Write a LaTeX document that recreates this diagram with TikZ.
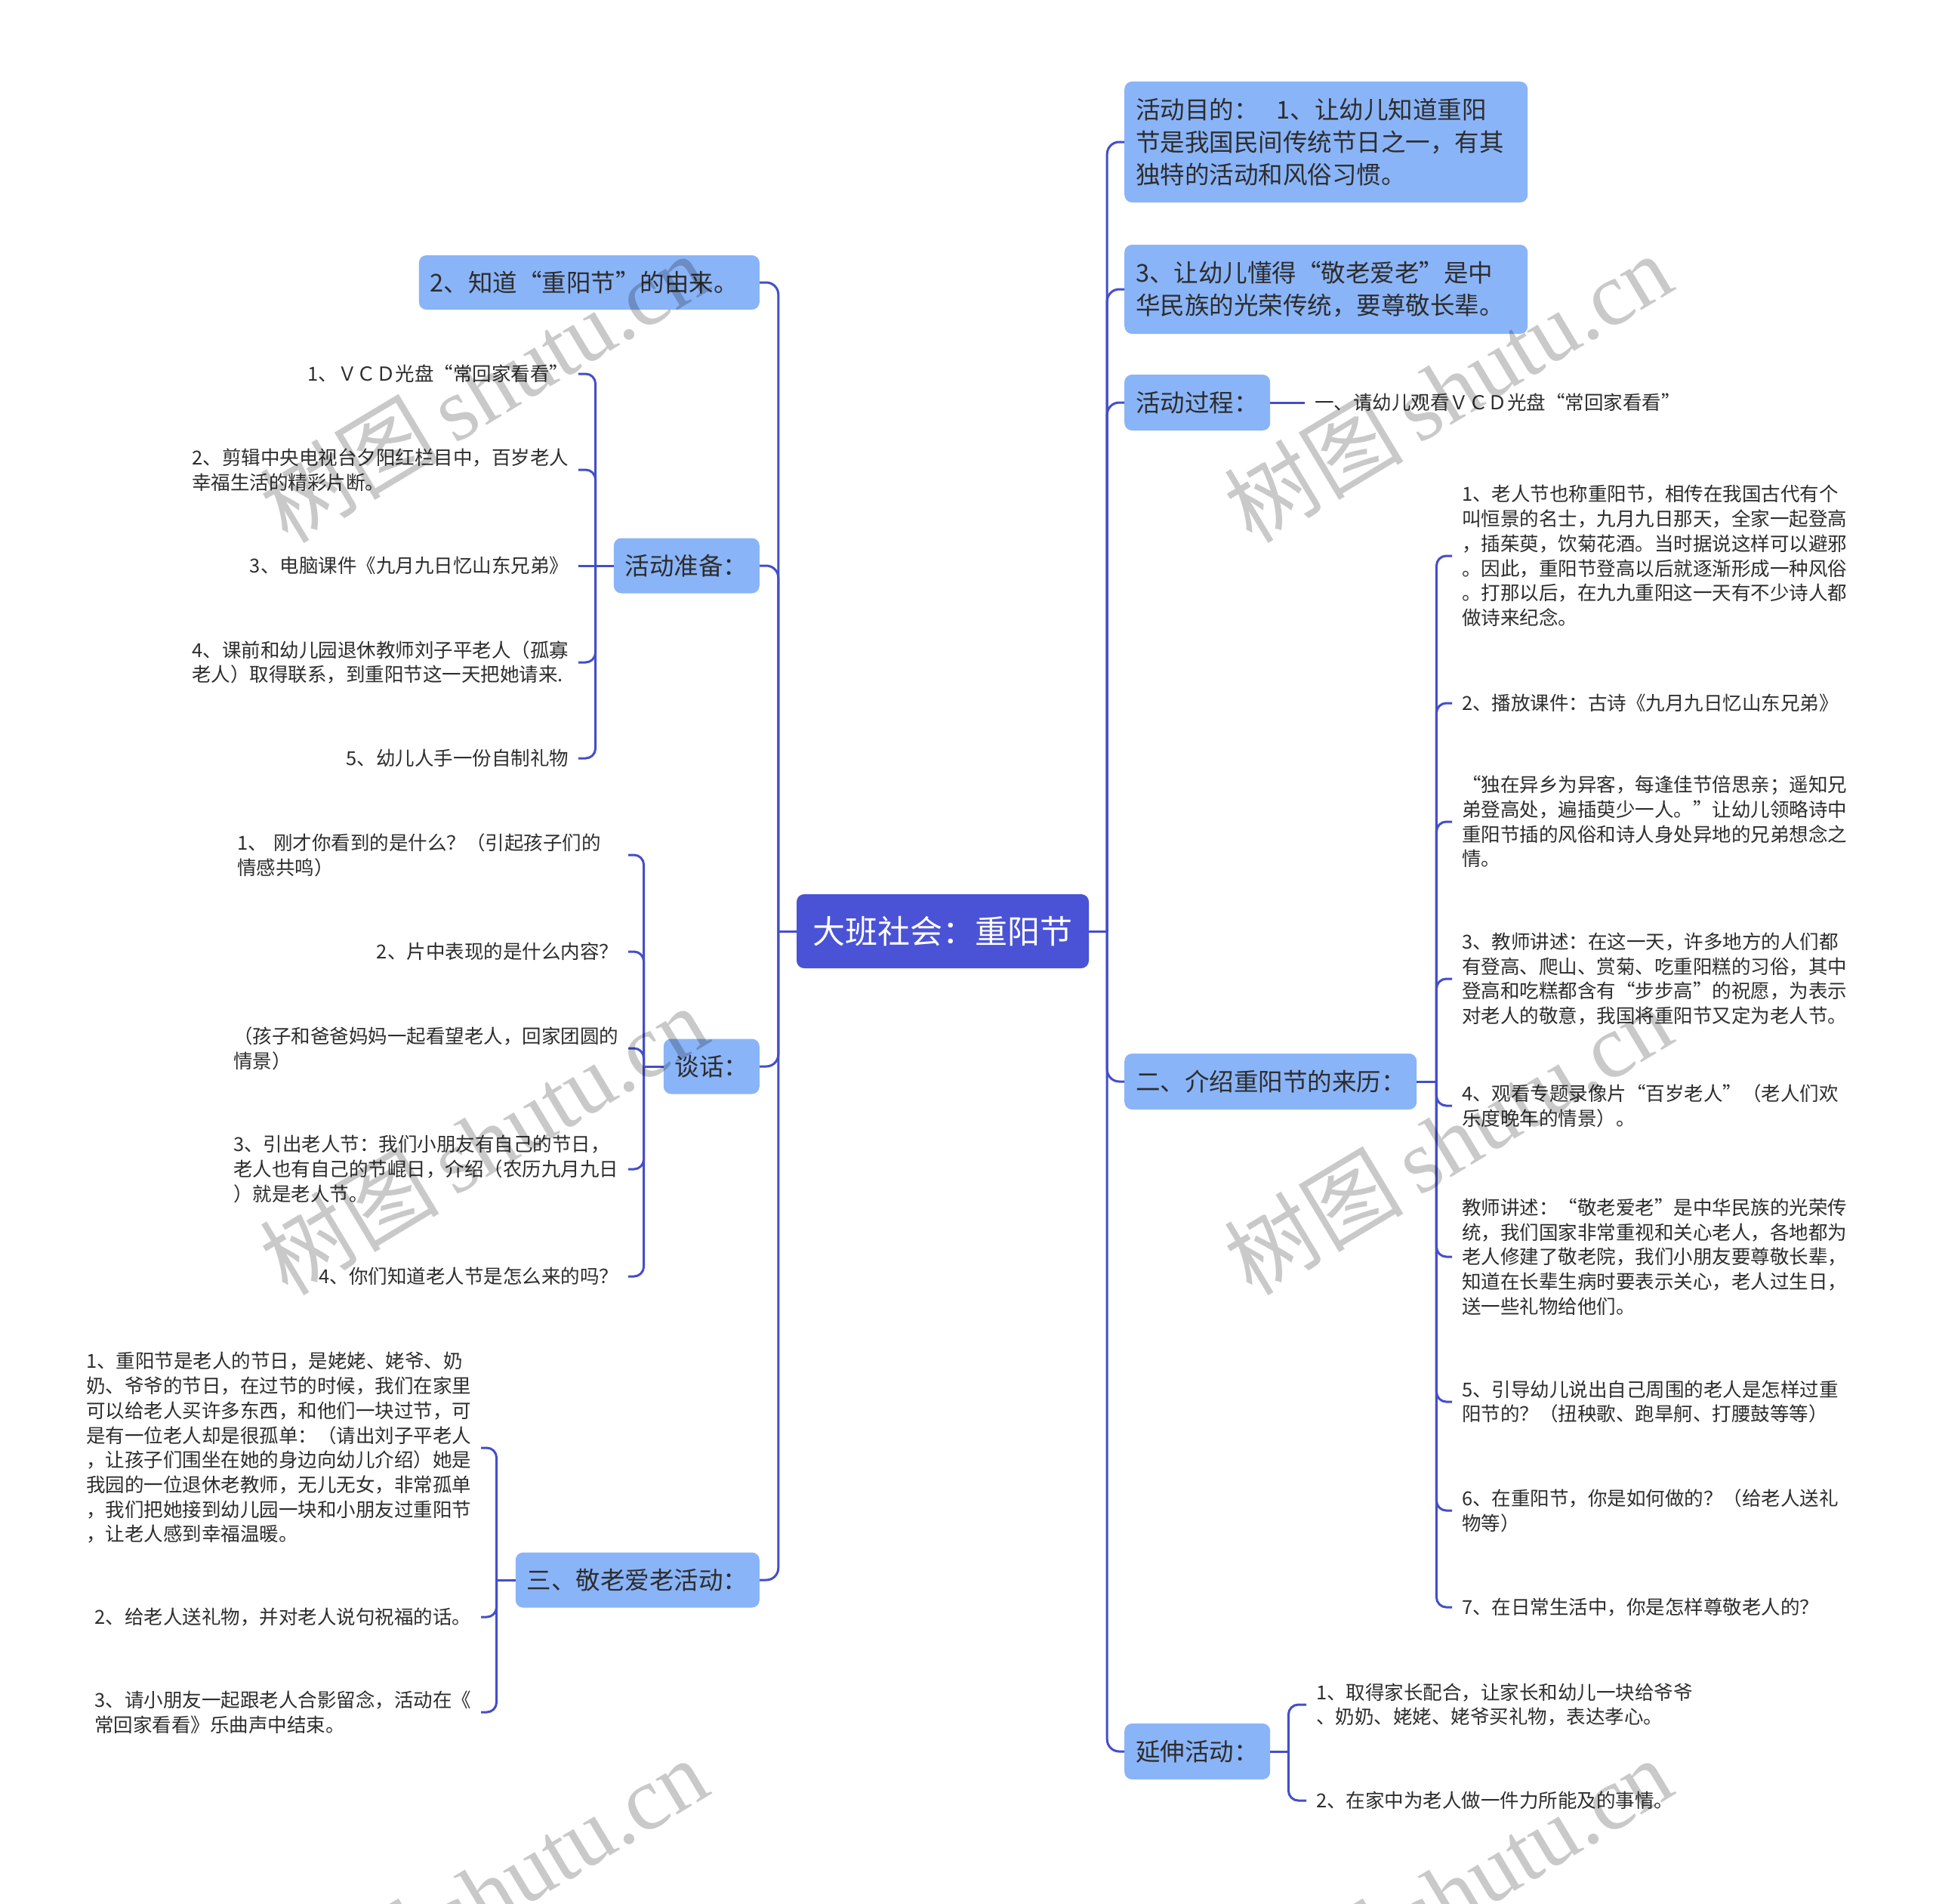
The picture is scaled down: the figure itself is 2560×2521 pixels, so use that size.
\documentclass[tikz,border=0pt]{standalone}
\usepackage{fontspec}
\setmainfont{Noto Sans CJK SC}
\newfontfamily\wmserif{Liberation Serif}
\definecolor{linec}{RGB}{68,78,200}
\definecolor{rootc}{RGB}{74,82,214}
\definecolor{boxc}{RGB}{138,180,248}
\definecolor{txtc}{RGB}{45,45,45}
\tikzset{
  root/.style={fill=rootc, rounded corners=10pt, text=white, font=\fontsize{43}{50}\selectfont, minimum width=387pt, minimum height=98pt, inner sep=0pt},
  box/.style={fill=boxc, rounded corners=10pt, text=txtc, font=\fontsize{32.5}{43}\selectfont, inner xsep=15pt, inner ysep=0pt, align=left},
  leaf/.style={text=txtc, font=\fontsize{25.5}{32.7}\selectfont, inner sep=0pt, outer xsep=13pt, align=left},
  leafL/.style={leaf, anchor=east},
  leafR/.style={leaf, anchor=west},
  conn/.style={draw=linec, line width=3pt, rounded corners=16pt},
  stubc/.style={draw=linec, line width=3pt, rounded corners=13pt},
  wm/.style={text=black, opacity=0.21, rotate=31, inner sep=0pt, font=\fontsize{119}{119}\selectfont}
}
\begin{document}
\begin{tikzpicture}[x=1pt,y=-1pt]
\useasboundingbox (0,0) rectangle (2560,2521);
\fill[white] (0,0) rectangle (2560,2521);

% root
\node[root] (root) at (1248.5,1233) {大班社会：重阳节};
\coordinate (lj) at ([xshift=-24pt]root.west);
\coordinate (rj) at ([xshift=24pt]root.east);
\draw[conn] (root.west) -- (lj);
\draw[conn] (root.east) -- (rj);

% left boxes
\node[box, text width=421pt, minimum height=72pt, anchor=east] (k2) at (1006,374) {2、知道“重阳节”的由来。};
\node[box, text width=163pt, minimum height=73pt, anchor=east] (prep) at (1006,749) {活动准备：};
\node[box, text width=97pt, minimum height=73pt, anchor=east] (talk) at (1006,1412) {谈话：};
\node[box, text width=293pt, minimum height=73pt, anchor=east] (act3) at (1006,2092) {三、敬老爱老活动：};

% right boxes
\node[box, text width=504pt, minimum height=160pt, anchor=west] (goal) at (1489,188) {活动目的：\hspace{24pt}1、让幼儿知道重阳\\节是我国民间传统节日之一，有其\\独特的活动和风俗习惯。};
\node[box, text width=504pt, minimum height=118pt, anchor=west] (goal3) at (1489,383) {3、让幼儿懂得“敬老爱老”是中\\华民族的光荣传统，要尊敬长辈。};
\node[box, text width=163pt, minimum height=74pt, anchor=west] (proc) at (1489,533) {活动过程：};
\node[box, text width=357pt, minimum height=74pt, anchor=west] (hist) at (1489,1432) {二、介绍重阳节的来历：};
\node[box, text width=163pt, minimum height=74pt, anchor=west] (ext) at (1489,2319) {延伸活动：};

% trunk connectors
\foreach \n in {k2,prep,talk,act3} \draw[conn] (lj) |- (\n.east);
\foreach \n in {goal,goal3,proc,hist,ext} \draw[conn] (rj) |- (\n.west);

% 活动准备 leaves
\coordinate (pj) at ([xshift=-24pt]prep.west);
\draw[conn] (prep.west) -- (pj);
\node[leafL] (p1) at (766,495) {1、ＶＣＤ光盘“常回家看看”};
\node[leafL] (p2) at (766,622) {2、剪辑中央电视台夕阳红栏目中，百岁老人\\幸福生活的精彩片断。};
\node[leafL] (p3) at (766,749) {3、电脑课件《九月九日忆山东兄弟》};
\node[leafL] (p4) at (766,877) {4、课前和幼儿园退休教师刘子平老人（孤寡\\老人）取得联系，到重阳节这一天把她请来.};
\node[leafL] (p5) at (766,1004) {5、幼儿人手一份自制礼物};
\foreach \n in {p1,p2,p4,p5} \draw[stubc] (pj) |- (\n.east);
\draw[stubc] (pj) -- (p3.east);

% 谈话 leaves
\coordinate (tj) at ([xshift=-26pt]talk.west);
\draw[conn] (talk.west) -- (tj);
\node[leafL, text width=505pt] (t1) at (832,1132) {1、 刚才你看到的是什么？（引起孩子们的\\情感共鸣）};
\node[leafL] (t2) at (832,1260) {2、片中表现的是什么内容？};
\node[leafL] (t3) at (832,1388) {（孩子和爸爸妈妈一起看望老人，回家团圆的\\情景）};
\node[leafL] (t4) at (832,1548) {3、引出老人节：我们小朋友有自己的节日，\\老人也有自己的节崐日，介绍（农历九月九日\\）就是老人节。};
\node[leafL] (t5) at (832,1690) {4、你们知道老人节是怎么来的吗？};
\foreach \n in {t1,t2,t3,t4,t5} \draw[stubc] (tj) |- (\n.east);

% 三 leaves
\coordinate (aj) at ([xshift=-25pt]act3.west);
\draw[conn] (act3.west) -- (aj);
\node[leafL] (a1) at (637,1917) {1、重阳节是老人的节日，是姥姥、姥爷、奶\\奶、爷爷的节日，在过节的时候，我们在家里\\可以给老人买许多东西，和他们一块过节，可\\是有一位老人却是很孤单：（请出刘子平老人\\，让孩子们围坐在她的身边向幼儿介绍）她是\\我园的一位退休老教师，无儿无女，非常孤单\\，我们把她接到幼儿园一块和小朋友过重阳节\\，让老人感到幸福温暖。};
\node[leafL] (a2) at (637,2141) {2、给老人送礼物，并对老人说句祝福的话。};
\node[leafL] (a3) at (637,2267) {3、请小朋友一起跟老人合影留念，活动在《\\常回家看看》乐曲声中结束。};
\foreach \n in {a1,a2,a3} \draw[stubc] (aj) |- (\n.east);

% 活动过程 leaf
\node[leafR] (pl) at (1728,533) {一、请幼儿观看ＶＣＤ光盘“常回家看看”};
\draw[conn] (proc.east) -- (pl.west);

% 二 leaves
\coordinate (hj) at ([xshift=26pt]hist.east);
\draw[conn] (hist.east) -- (hj);
\node[leafR] (h1) at (1923,736) {1、老人节也称重阳节，相传在我国古代有个\\叫恒景的名士，九月九日那天，全家一起登高\\，插茱萸，饮菊花酒。当时据说这样可以避邪\\。因此，重阳节登高以后就逐渐形成一种风俗\\。打那以后，在九九重阳这一天有不少诗人都\\做诗来纪念。};
\node[leafR] (h2) at (1923,931) {2、播放课件：古诗《九月九日忆山东兄弟》};
\node[leafR] (h3) at (1923,1088) {“独在异乡为异客，每逢佳节倍思亲；遥知兄\\弟登高处，遍插萸少一人。”让幼儿领略诗中\\重阳节插的风俗和诗人身处异地的兄弟想念之\\情。};
\node[leafR] (h4) at (1923,1296) {3、教师讲述：在这一天，许多地方的人们都\\有登高、爬山、赏菊、吃重阳糕的习俗，其中\\登高和吃糕都含有“步步高”的祝愿，为表示\\对老人的敬意，我国将重阳节又定为老人节。};
\node[leafR] (h5) at (1923,1464) {4、观看专题录像片“百岁老人”（老人们欢\\乐度晚年的情景）。};
\node[leafR] (h6) at (1923,1664) {教师讲述：“敬老爱老”是中华民族的光荣传\\统，我们国家非常重视和关心老人，各地都为\\老人修建了敬老院，我们小朋友要尊敬长辈，\\知道在长辈生病时要表示关心，老人过生日，\\送一些礼物给他们。};
\node[leafR] (h7) at (1923,1856) {5、引导幼儿说出自己周围的老人是怎样过重\\阳节的？（扭秧歌、跑旱舸、打腰鼓等等）};
\node[leafR] (h8) at (1923,2000) {6、在重阳节，你是如何做的？（给老人送礼\\物等）};
\node[leafR] (h9) at (1923,2128) {7、在日常生活中，你是怎样尊敬老人的？};
\foreach \n in {h1,h2,h3,h4,h5,h6,h7,h8,h9} \draw[stubc] (hj) |- (\n.west);

% 延伸 leaves
\coordinate (ej) at ([xshift=24pt]ext.east);
\draw[conn] (ext.east) -- (ej);
\node[leafR] (e1) at (1730,2257) {1、取得家长配合，让家长和幼儿一块给爷爷\\、奶奶、姥姥、姥爷买礼物，表达孝心。};
\node[leafR] (e2) at (1730,2384) {2、在家中为老人做一件力所能及的事情。};
\foreach \n in {e1,e2} \draw[stubc] (ej) |- (\n.west);

% watermarks
\foreach \x/\y [count=\i] in {640/513, 1917/513, 640/1509, 1917/1509, 640/2505, 1917/2505}
  \node[wm] (wm\i) at (\x,\y) {树图\hspace{20pt}{\wmserif shutu.cn}};
\end{tikzpicture}
\end{document}
